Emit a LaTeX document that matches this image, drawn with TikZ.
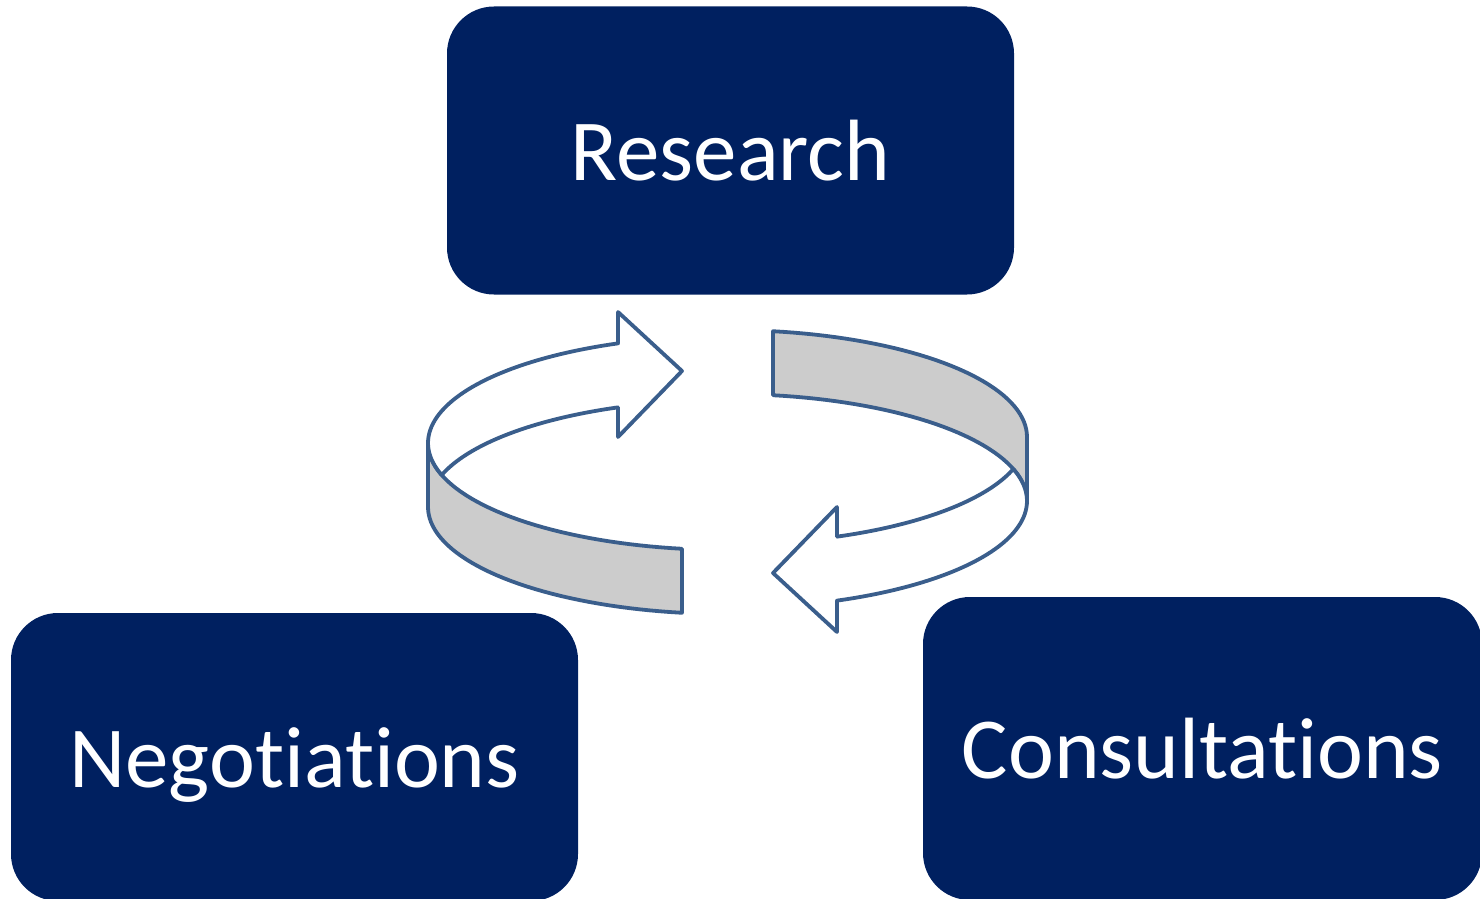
\documentclass[tikz,border=0pt]{standalone}
\usepackage{fontspec}
\setmainfont{Carlito}[RawFeature={-liga;-dlig;-clig}]
\definecolor{navy}{HTML}{002060}
\definecolor{edgeblue}{HTML}{3A5E8C}
\definecolor{bandgray}{HTML}{CCCCCC}
\begin{document}
\begin{tikzpicture}[x=1pt,y=-1pt,
  box/.style={fill=navy, rounded corners=47pt, inner sep=0pt, text=white,
    font=\fontsize{87}{100}\selectfont, text height=60pt, text depth=0pt},
  ribbon/.style={draw=edgeblue, line width=3.8pt, line join=round},
  bandfill/.style={ribbon, fill=bandgray},
  topfill/.style={ribbon, fill=white}]
\useasboundingbox (0,0) rectangle (1480,899);
% boxes
\node[box, minimum width=567pt, minimum height=288pt] (research) at (730.5,150.5) {Research};
\node[box, minimum width=567pt, minimum height=288pt] (negotiations) at (294.5,757) {Negotiations};
\node[box, minimum width=559pt, minimum height=303pt] (consultations) at (1202.5,748.5) {Consultations};
% circular arrows
\foreach \rot in {0,180}{
\begin{scope}[rotate around={\rot:(727.5,472)}]
  % front band (gray)
  \path[bandfill] (428,443) -- (428,507)
    -- plot[variable=\t, domain=180:98.66, samples=40] ({727+299*cos(\t)},{507+107*sin(\t)})
    -- plot[variable=\t, domain=98.66:180, samples=40] ({727+299*cos(\t)},{443+107*sin(\t)})
    -- cycle;
  % back face with arrowhead (white)
  \path[topfill] (618,343.4) -- (618,312) -- (682,371) -- (618,437) -- (618,407.4)
    -- plot[variable=\t, domain=248.6:197.4, samples=40] ({727+299*cos(\t)},{507+107*sin(\t)})
    -- plot[variable=\t, domain=162.6:248.6, samples=50] ({727+299*cos(\t)},{443+107*sin(\t)})
    -- cycle;
\end{scope}
}
\end{tikzpicture}
\end{document}
